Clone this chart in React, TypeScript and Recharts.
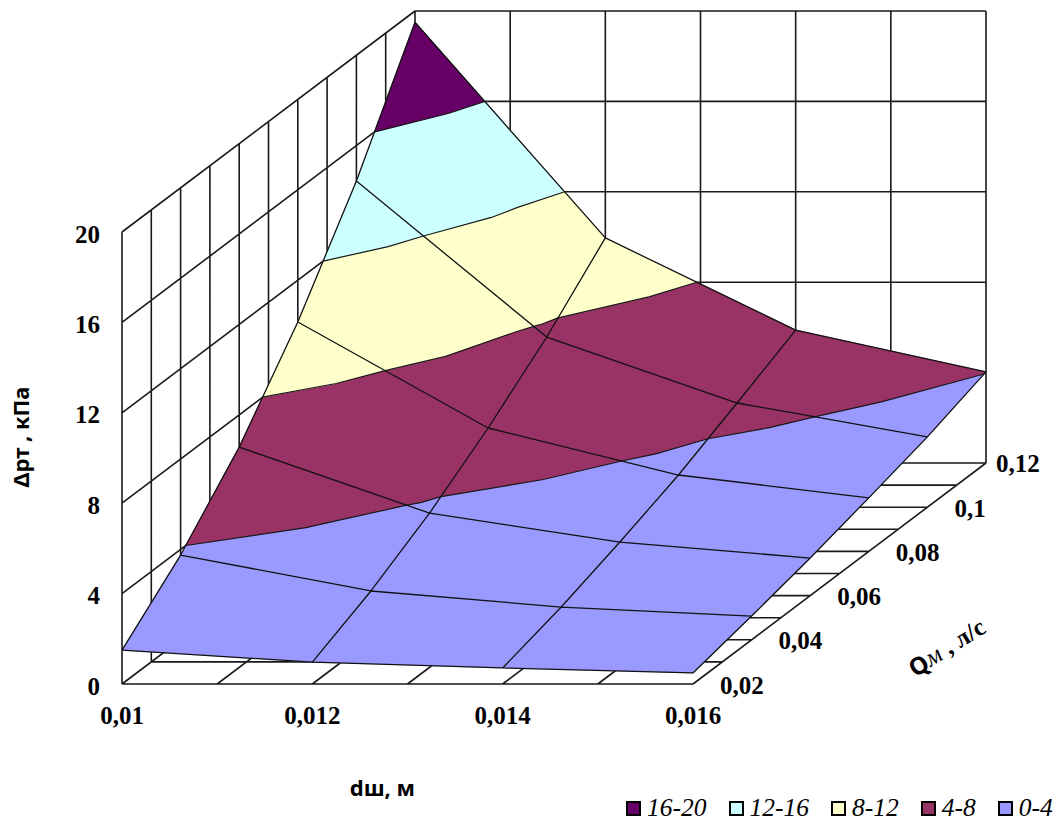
import React from 'react';
import { ScatterChart, Scatter, XAxis, YAxis, Legend } from 'recharts';

// Axis values
const diameters = [0.01, 0.012, 0.014, 0.016];
const flows = [0.02, 0.04, 0.06, 0.08, 0.1, 0.12];
const pressureTicks = [0, 4, 8, 12, 16, 20];

const diameterLabels = ['0,01', '0,012', '0,014', '0,016'];
const flowLabels = ['0,02', '0,04', '0,06', '0,08', '0,1', '0,12'];

// Pressure drop per diameter, one value per flow
const dropAt010 = [1.5, 3.75, 6.57, 10.15, 14.43, 19.5];
const dropAt012 = [0.97, 2.16, 3.65, 5.46, 7.53, 9.96];
const dropAt014 = [0.71, 1.45, 2.37, 3.38, 4.61, 5.88];
const dropAt016 = [0.49, 1.05, 1.66, 2.37, 3.11, 4.03];
const drops = [dropAt010, dropAt012, dropAt014, dropAt016];

const bandNames = ['0-4', '4-8', '8-12', '12-16', '16-20'];
const bandColors = ['#9999ff', '#993366', '#ffffcc', '#ccffff', '#660066'];
const bandLimits = [0, 4, 8, 12, 16, 20];

const W = 1063;
const H = 821;
const SERIF = '"Liberation Serif", serif';
const SANS = '"Noto Sans", sans-serif';

type P3 = { d: number; q: number; z: number };
type Pt = { u: number; v: number; label?: string };

const dMin = diameters[0];
const dSpan = diameters[diameters.length - 1] - dMin;
const qMin = flows[0];
const qSpan = flows[flows.length - 1] - qMin;
const zMax = pressureTicks[pressureTicks.length - 1];

// Oblique projection of the 3D box onto the chart plane
function project(d: number, q: number, z: number): Pt {
  const dn = (d - dMin) / dSpan;
  const qn = (q - qMin) / qSpan;
  return { u: 122 + 571 * dn + 293 * qn, v: 137 + 452 * (z / zMax) + 221 * qn };
}

const steps = (from: number, to: number, n: number) =>
  Array.from({ length: n + 1 }, (_, i) => from + ((to - from) * i) / n);

const dMax = dMin + dSpan;
const qMax = qMin + qSpan;
const dMinor = steps(dMin, dMax, 6);
const qMinor = steps(qMin, qMax, 10);

// Walls and floor of the box
const boxLines: Pt[][] = [
  ...qMinor.map(q => [project(dMin, q, 0), project(dMin, q, zMax)]),
  ...dMinor.map(d => [project(d, qMax, 0), project(d, qMax, zMax)]),
  ...pressureTicks.map(z => [project(dMin, qMin, z), project(dMin, qMax, z), project(dMax, qMax, z)]),
  ...qMinor.map(q => [project(dMin, q, 0), project(dMax, q, 0)]),
  ...dMinor.map(d => [project(d, qMin, 0), project(d, qMax, 0)]),
];

// Each grid cell is split into four triangles around its averaged centre
const triangles: P3[][] = [];
for (let i = 0; i < diameters.length - 1; i++) {
  for (let j = 0; j < flows.length - 1; j++) {
    const a = { d: diameters[i], q: flows[j], z: drops[i][j] };
    const b = { d: diameters[i + 1], q: flows[j], z: drops[i + 1][j] };
    const c = { d: diameters[i + 1], q: flows[j + 1], z: drops[i + 1][j + 1] };
    const e = { d: diameters[i], q: flows[j + 1], z: drops[i][j + 1] };
    const mid = {
      d: (a.d + b.d) / 2,
      q: (a.q + e.q) / 2,
      z: (a.z + b.z + c.z + e.z) / 4,
    };
    triangles.push([a, b, mid], [b, c, mid], [c, e, mid], [e, a, mid]);
  }
}

const lerp = (a: P3, b: P3, level: number): P3 => {
  const t = (level - a.z) / (b.z - a.z);
  return { d: a.d + (b.d - a.d) * t, q: a.q + (b.q - a.q) * t, z: level };
};

// Sutherland-Hodgman against one z limit
function clip(poly: P3[], level: number, keepAbove: boolean): P3[] {
  const inside = (p: P3) => (keepAbove ? p.z >= level : p.z <= level);
  const out: P3[] = [];
  poly.forEach((p, i) => {
    const next = poly[(i + 1) % poly.length];
    if (inside(p)) out.push(p);
    if (inside(p) !== inside(next)) out.push(lerp(p, next, level));
  });
  return out;
}

const toPts = (poly: P3[]) => poly.map(p => project(p.d, p.q, p.z));

const bandPolys = bandNames.map((_, b) =>
  triangles
    .map(t => clip(clip(t, bandLimits[b], true), bandLimits[b + 1], false))
    .filter(p => p.length > 2)
    .map(toPts),
);

// Contour lines between the colour bands
const contourLines: Pt[][] = [];
bandLimits.slice(1, -1).forEach(level => {
  triangles.forEach(t => {
    const cut: P3[] = [];
    t.forEach((p, i) => {
      const next = t[(i + 1) % 3];
      if (p.z < level !== next.z < level) cut.push(lerp(p, next, level));
    });
    if (cut.length === 2) contourLines.push(toPts(cut));
  });
});

const surfaceLines: Pt[][] = [
  ...diameters.map((d, i) => flows.map((q, j) => project(d, q, drops[i][j]))),
  ...flows.map((q, j) => diameters.map((d, i) => project(d, q, drops[i][j]))),
];

const noDot = () => <g />;

// Draws a group of polylines or polygons from the scaled points of one Scatter
const pathLine = (polys: Pt[][], style: React.SVGProps<SVGPathElement>) => (props: any) => {
  let at = 0;
  const d = polys
    .map(poly => {
      const pts = props.points.slice(at, at + poly.length);
      at += poly.length;
      return 'M' + pts.map((p: any) => `${p.x},${p.y}`).join('L');
    })
    .join('');
  return <path key="path" d={d} fill="none" strokeLinejoin="round" {...style} />;
};

const PolyGroup = (name: string, polys: Pt[][], style: React.SVGProps<SVGPathElement>, fill?: string) => (
  <Scatter
    key={name}
    name={name}
    data={polys.flat()}
    fill={fill ?? '#000'}
    legendType={fill ? 'square' : 'none'}
    shape={noDot}
    line={pathLine(polys, style)}
    isAnimationActive={false}
  />
);

const tickText = (dx: number, dy: number, anchor: string) => (p: any) => (
  <text
    x={p.cx + dx}
    y={p.cy + dy}
    textAnchor={anchor as any}
    dominantBaseline="central"
    fontFamily={SERIF}
    fontWeight="bold"
    fontSize={25}
    fill="#000"
  >
    {p.payload.label}
  </text>
);

const TickGroup = (name: string, data: Pt[], shape: (p: any) => React.ReactElement) => (
  <Scatter key={name} name={name} data={data} legendType="none" shape={shape} isAnimationActive={false} />
);

const zTickPts = pressureTicks.map(z => ({ ...project(dMin, qMin, z), label: String(z) }));
const dTickPts = diameters.map((d, i) => ({ ...project(d, qMin, 0), label: diameterLabels[i] }));
const qTickPts = flows.slice(0, -1).map((q, i) => ({ ...project(dMax, q, 0), label: flowLabels[i] }));
const qLastTick = [{ ...project(dMax, qMax, 0), label: flowLabels[flowLabels.length - 1] }];

function BandLegend({ payload }: any) {
  // highest band first
  const items = bandNames
    .map(name => (payload ?? []).find((e: any) => e.value === name))
    .filter(Boolean)
    .reverse();
  return (
    <div style={{ display: 'flex', gap: 22, fontFamily: SERIF, fontStyle: 'italic', fontSize: 25.5, lineHeight: '30px' }}>
      {items.map((e: any) => (
        <div key={e.value} style={{ display: 'flex', alignItems: 'center', gap: 6, whiteSpace: 'nowrap' }}>
          <span style={{ width: 11, height: 11, background: e.color, border: '2px solid #000', display: 'inline-block' }} />
          {e.value}
        </div>
      ))}
    </div>
  );
}

export default function App() {
  const titleStyle = { fontFamily: SANS, fontWeight: 'bold', fontSize: 22, fill: '#000' };
  return (
    <div style={{ position: 'absolute', left: 0, top: 0, width: W, height: H, background: '#fff' }}>
      <ScatterChart width={W} height={H} margin={{ top: 0, right: 0, bottom: 0, left: 0 }}>
        <XAxis type="number" dataKey="u" domain={[0, W]} hide />
        <YAxis type="number" dataKey="v" domain={[0, H]} hide />

        {PolyGroup('box', boxLines, { stroke: '#1a1a1a', strokeWidth: 1.6 })}
        {bandNames.map((name, b) =>
          PolyGroup(name, bandPolys[b], { fill: bandColors[b], stroke: bandColors[b], strokeWidth: 0.6 }, bandColors[b]),
        )}
        {PolyGroup('contours', contourLines, { stroke: '#1a1a1a', strokeWidth: 1.2 })}
        {PolyGroup('surface', surfaceLines, { stroke: '#111', strokeWidth: 1.3 })}

        {TickGroup('zTicks', zTickPts, tickText(-22, 2, 'end'))}
        {TickGroup('dTicks', dTickPts, tickText(0, 31, 'middle'))}
        {TickGroup('qTicks', qTickPts, tickText(27, 1, 'start'))}
        {TickGroup('qLast', qLastTick, tickText(10, 0, 'start'))}

        {/* Axis titles */}
        {TickGroup('dTitle', [project(dMin + dSpan * 0.4, qMin, 0)], p => (
          <text x={p.cx + 32} y={p.cy + 103} textAnchor="middle" dominantBaseline="central" {...titleStyle}>
            dш, м
          </text>
        ))}
        {TickGroup('zTitle', [project(dMin, qMin, 10)], p => (
          <text
            transform={`translate(${p.cx - 102},${p.cy - 21}) rotate(-90)`}
            textAnchor="middle"
            dominantBaseline="central"
            {...titleStyle}
          >
            Δрт , кПа
          </text>
        ))}
        {TickGroup('qTitle', [project(dMax, qMin + qSpan * 0.4, 0)], p => (
          <text
            transform={`translate(${p.cx + 136},${p.cy + 51}) rotate(-32)`}
            textAnchor="middle"
            dominantBaseline="central"
            fontFamily={SERIF}
            fontWeight="bold"
            fontSize={25}
          >
            <tspan fontFamily={SANS} fontSize={24}>Q</tspan>
            <tspan fontStyle="italic" fontWeight="normal">м</tspan>
            <tspan> , л/с</tspan>
          </text>
        ))}

        <Legend
          layout="horizontal"
          align="center"
          verticalAlign="middle"
          content={BandLegend}
          wrapperStyle={{ left: 626, top: 793, right: 'auto', bottom: 'auto', width: 'auto', height: 30 }}
        />
      </ScatterChart>
    </div>
  );
}
